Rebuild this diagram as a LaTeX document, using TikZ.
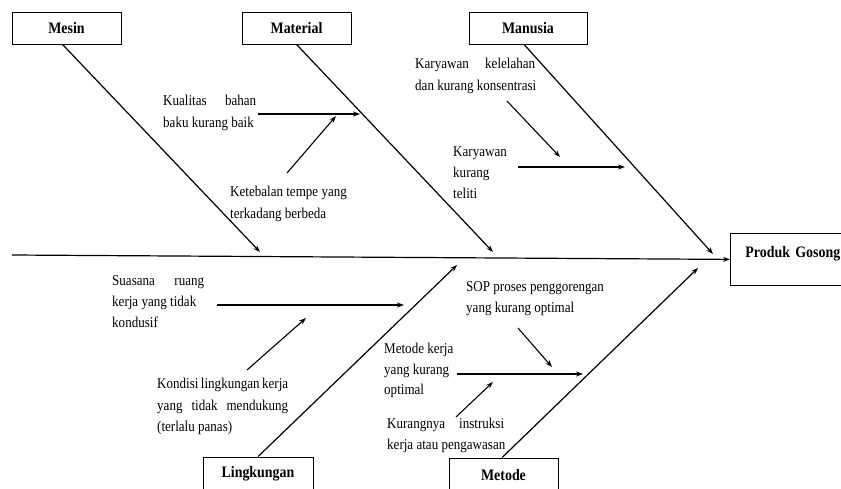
\documentclass[tikz,border=0pt]{standalone}
\usepackage{fontspec}
\setmainfont{Liberation Serif}[FakeStretch=0.87]
\usetikzlibrary{arrows.meta}
\newcommand{\jline}[2]{\makebox[#1][s]{#2}}
\tikzset{
  box/.style={draw, line width=0.8pt, inner sep=0pt, font=\fontsize{16}{18}\selectfont\bfseries},
  lbl/.style={anchor=north west, inner sep=0pt, align=left, font=\fontsize{15}{21.5}\selectfont},
  bone/.style={line width=1.2pt, -{Stealth[length=7pt,width=5pt]}},
  sub/.style={line width=1.1pt, -{Stealth[length=7pt,width=5pt]}},
}
\begin{document}
\begin{tikzpicture}[x=1pt,y=-1pt]
\useasboundingbox (0,0) rectangle (841,488);
% category boxes
\node[box, minimum width=109pt, minimum height=32pt] (mesin) at (66.5,28) {Mesin};
\node[box, minimum width=109pt, minimum height=32pt] (material) at (296.5,28) {Material};
\node[box, minimum width=118pt, minimum height=32pt] (manusia) at (528,28) {Manusia};
\node[box, minimum width=110pt, minimum height=34pt] (lingk) at (258,474) {Lingkungan};
\node[box, minimum width=109pt, minimum height=34pt] (metode) at (503.5,475) {Metode};
\node[box, anchor=north west, inner xsep=15pt, inner ysep=0pt, text height=24pt, text depth=28pt, text width=95pt, align=left] (prod) at (730,233) {Produk Gosong};
% spine
\coordinate (s0) at (12,255);
\draw[bone] (s0) -- (prod.west);
% main bones
\coordinate (tmes) at (260,252);
\coordinate (tmat) at (493,252);
\coordinate (tman) at (713,254);
\coordinate (tlin) at (457,265);
\coordinate (tmet) at (698,268);
\draw[bone] ([xshift=-4pt]mesin.south) -- (tmes);
\draw[bone] (material.south) -- (tmat);
\draw[bone] ([xshift=-4pt]manusia.south) -- (tman);
\draw[bone] (lingk.north) -- (tlin);
\draw[bone] ([xshift=-1.5pt]metode.north) -- (tmet);
% labels
\node[lbl] (kual) at (163,95) {\jline{93pt}{Kualitas bahan}\\baku kurang baik};
\node[lbl] (keteb) at (230,186) {Ketebalan tempe yang\\terkadang berbeda};
\node[lbl] (kary1) at (415,58) {\jline{120pt}{Karyawan kelelahan}\\dan kurang konsentrasi};
\node[lbl, font=\fontsize{15}{21}\selectfont] (kary2) at (453,146) {Karyawan\\kurang\\teliti};
\node[lbl, font=\fontsize{15}{21}\selectfont] (suas) at (112,275) {\jline{92pt}{Suasana ruang}\\kerja yang tidak\\kondusif};
\node[lbl] (kond) at (157,378) {\jline{131pt}{Kondisi lingkungan kerja}\\\jline{131pt}{yang tidak mendukung}\\(terlalu panas)};
\node[lbl] (sop) at (466,281) {SOP proses penggorengan\\yang kurang optimal};
\node[lbl, font=\fontsize{15}{20.5}\selectfont] (metk) at (384,343) {Metode kerja\\yang kurang\\optimal};
\node[lbl, font=\fontsize{15}{20.5}\selectfont] (kurg) at (387,418) {\jline{117pt}{Kurangnya instruksi}\\kerja atau pengawasan};
% sub-cause arrows
\coordinate (b1) at (258,114); \coordinate (a1) at (360,114);
\coordinate (b2) at (287,173); \coordinate (a2) at (336,116);
\coordinate (b3) at (507,101); \coordinate (a3) at (560,157);
\coordinate (b4) at (518,167); \coordinate (a4) at (625,167);
\coordinate (b5) at (217,305); \coordinate (a5) at (404,305);
\coordinate (b6) at (247,370); \coordinate (a6) at (306,318);
\coordinate (b7) at (518,328); \coordinate (a7) at (552,367);
\coordinate (b8) at (457,374); \coordinate (a8) at (583,374);
\coordinate (b9) at (456,417); \coordinate (a9) at (493,382);
\draw[sub] (b1) -- (a1);
\draw[sub] (b2) -- (a2);
\draw[sub] (b3) -- (a3);
\draw[sub] (b4) -- (a4);
\draw[sub] (b5) -- (a5);
\draw[sub] (b6) -- (a6);
\draw[sub] (b7) -- (a7);
\draw[sub] (b8) -- (a8);
\draw[sub] (b9) -- (a9);
\end{tikzpicture}
\end{document}
